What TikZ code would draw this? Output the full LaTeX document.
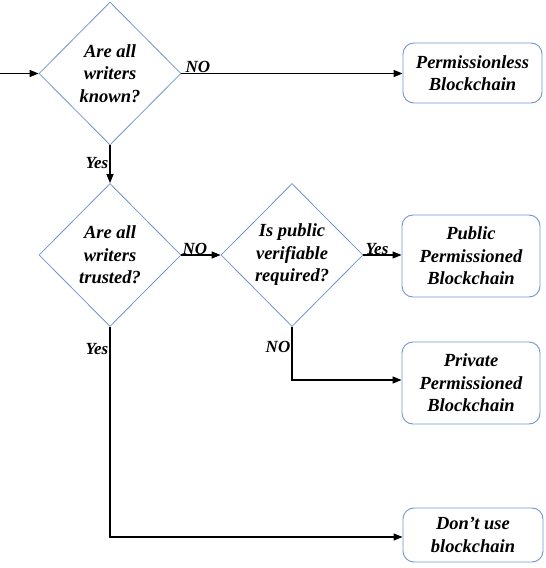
\documentclass[tikz,border=0pt]{standalone}
\usepackage{fontspec}
\setmainfont{Liberation Serif}
\usetikzlibrary{shapes.geometric,arrows.meta}
\definecolor{dblue}{RGB}{114,148,204}
\tikzset{
  dec/.style={diamond, draw=dblue, line width=0.8pt, minimum width=142pt, minimum height=143pt, inner sep=0pt, align=center, font=\fontsize{18.5}{22.5}\selectfont\bfseries\itshape},
  outbox/.style={rectangle, rounded corners=11pt, draw=dblue, line width=0.9pt, align=center, font=\fontsize{18.5}{22.5}\selectfont\bfseries\itshape},
  conn/.style={line width=1.2pt, -{Triangle[length=9pt,width=7pt]}},
  lab/.style={font=\fontsize{17}{18}\selectfont\bfseries\itshape, inner sep=0.5pt}
}
\begin{document}
\begin{tikzpicture}[x=1pt,y=-1pt]
\useasboundingbox (0,0) rectangle (546,568);
\node[dec] (d1) at (110,73.5) {Are all\\writers\\known?};
\node[dec] (d2) at (110,255) {Are all\\writers\\trusted?};
\node[dec] (d3) at (292,255) {Is public\\verifiable\\required?};
\node[outbox, minimum width=139pt, minimum height=60pt] (b1) at (472.5,73) {Permissionless\\Blockchain};
\node[outbox, minimum width=138pt, minimum height=82pt] (b2) at (471,256) {Public\\Permissioned\\Blockchain};
\node[outbox, minimum width=138pt, minimum height=82pt] (b3) at (471,383) {Private\\Permissioned\\Blockchain};
\node[outbox, minimum width=140pt, minimum height=54pt] (b4) at (473,535) {Don’t use\\blockchain};
\coordinate (start) at (0,73.5);
\coordinate (c3) at (292,380);
\coordinate (c2) at (110,537);
\draw[conn] (start) -- (d1.west);
\draw[conn] (d1.east) -- (b1.west |- d1.east);
\node[lab, anchor=south west] at (185,73) {NO};
\draw[conn] (d1.south) -- (d2.north);
\node[lab, anchor=east] at (109,163) {Yes};
\draw[conn] (d2.east) -- (d3.west);
\node[lab, anchor=south west] at (182,255) {NO};
\draw[conn] (d3.east) -- (b2.west |- d3.east);
\node[lab, anchor=south west] at (365,255) {Yes};
\draw[conn] (d3.south) -- (c3) -- (b3.west |- c3);
\node[lab, anchor=east] at (291,347) {NO};
\draw[conn] (d2.south) -- (c2) -- (b4.west |- c2);
\node[lab, anchor=east] at (109,349) {Yes};
\end{tikzpicture}
\end{document}
